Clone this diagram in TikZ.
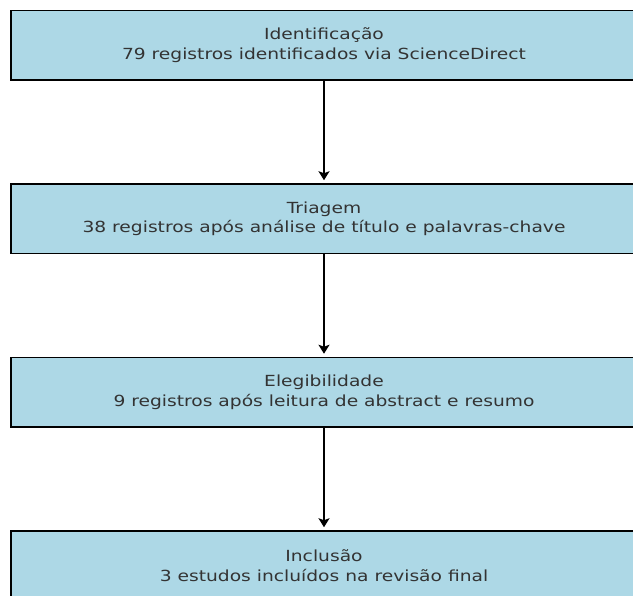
\documentclass[tikz,border=0pt]{standalone}
\usepackage{fontspec}
\setmainfont[FakeStretch=1.22]{DejaVu Sans}
\usepackage{tikz}
\usetikzlibrary{arrows.meta,positioning}

\definecolor{boxblue}{HTML}{ADD8E6}
\definecolor{txtgray}{HTML}{333333}

\begin{document}
\begin{tikzpicture}[x=1pt, y=1pt,
    stage/.style={draw, line width=1.5pt, fill=boxblue, text=txtgray, align=center,
      minimum width=626pt, minimum height=69.5pt, inner sep=0pt,
      font=\fontsize{15.3}{19.3}\selectfont},
    arr/.style={-{Stealth[length=9pt, width=11pt, inset=2pt]}, line width=2.5pt, shorten >=3pt}]
% page of 633 x 596, boxes run past the right and lower edges
\useasboundingbox (0,0) rectangle (633,-596);
\clip (0,0) rectangle (633,-596);
\node[stage] (ident) at (324,-45.25) {Identificação\\79 registros identificados via ScienceDirect};
\node[stage, below=102.5pt of ident] (triagem) {Triagem\\38 registros após análise de título e palavras-chave};
\node[stage, below=102.5pt of triagem] (eleg) {Elegibilidade\\9 registros após leitura de abstract e resumo};
\node[stage, below=102.5pt of eleg] (incl) {Inclusão\\3 estudos incluídos na revisão final};
\draw[arr] (ident) -- (triagem);
\draw[arr] (triagem) -- (eleg);
\draw[arr] (eleg) -- (incl);
\end{tikzpicture}
\end{document}
